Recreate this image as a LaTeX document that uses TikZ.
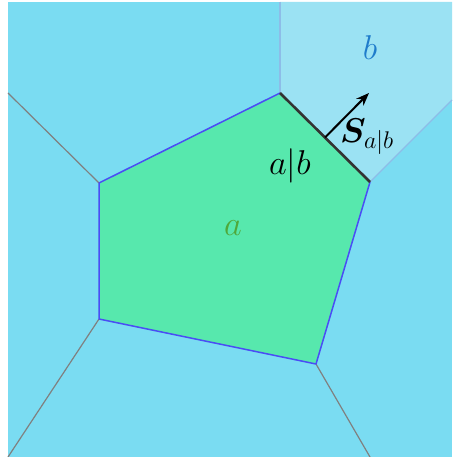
\RequirePackage{fix-cm}
\documentclass[tikz,border=0pt]{standalone}
\usepackage{amsmath}
\usepackage{bm}
\usepackage{graphicx}
\usetikzlibrary{arrows.meta,calc}
\definecolor{bgcyan}{HTML}{7ADCF2}
\definecolor{bcell}{HTML}{9BE2F3}
\definecolor{acell}{HTML}{57E8AD}
\definecolor{aedge}{HTML}{4A4DF5}
\definecolor{bedge}{HTML}{8DBDE8}
\definecolor{grayedge}{HTML}{808080}
\definecolor{alabel}{HTML}{4FA83A}
\definecolor{blabel}{HTML}{1F7CCB}
\newcommand{\biglbl}[1]{\scalebox{1.23}{#1}}
\tikzset{
  lbl/.style={inner sep=0pt, font=\fontsize{28}{34}\selectfont},
  outeredge/.style={draw=grayedge, line width=1.2pt},
  cellb/.style={draw=bedge, line width=1.2pt},
}
\begin{document}
\begin{tikzpicture}[x=1pt,y=-1pt]
\useasboundingbox (0,0) rectangle (452,457);
% background
\fill[bgcyan] (8,2) rectangle (452,457);
% coordinates
\coordinate (p1) at (280,93);
\coordinate (p2) at (370,182);
\coordinate (p3) at (316,364);
\coordinate (p4) at (99,319);
\coordinate (p5) at (99,183);
\coordinate (bt) at (280,2);
\coordinate (btr) at (452,2);
\coordinate (br) at (452,100);
\coordinate (l1) at (8,93);
\coordinate (l2) at (8,457);
\coordinate (l3) at (370,457);
% b cell
\fill[bcell] (bt) -- (btr) -- (br) -- (p2) -- (p1) -- cycle;
\draw[cellb] (bt) -- (p1);
\draw[cellb] (p2) -- (br);
% other edges
\draw[outeredge] (p5) -- (l1);
\draw[outeredge] (p4) -- (l2);
\draw[outeredge] (p3) -- (l3);
% a cell
\fill[acell] (p1) -- (p2) -- (p3) -- (p4) -- (p5) -- cycle;
\draw[aedge, line width=1.5pt, line join=round] (p2) -- (p3) -- (p4) -- (p5) -- (p1);
\draw[black!80, line width=2.6pt] (p1) -- (p2);
% arrow
\coordinate (m) at ($(p1)!0.5!(p2)$);
\coordinate (tip) at (369,93);
\draw[line width=2pt, -{Stealth[length=13pt,width=10pt]}] (m) -- (tip);
% labels
\node[lbl, text=blabel] (lb) at (370,48) {\biglbl{$b$}};
\node[lbl, text=alabel] (la) at (233,228) {\biglbl{$a$}};
\node[lbl] (lab) at (290,166) {\biglbl{$a|b$}};
\node[lbl, anchor=west] (ls) at (340,137) {\biglbl{$\bm{S}_{a|b}$}};
\end{tikzpicture}
\end{document}
